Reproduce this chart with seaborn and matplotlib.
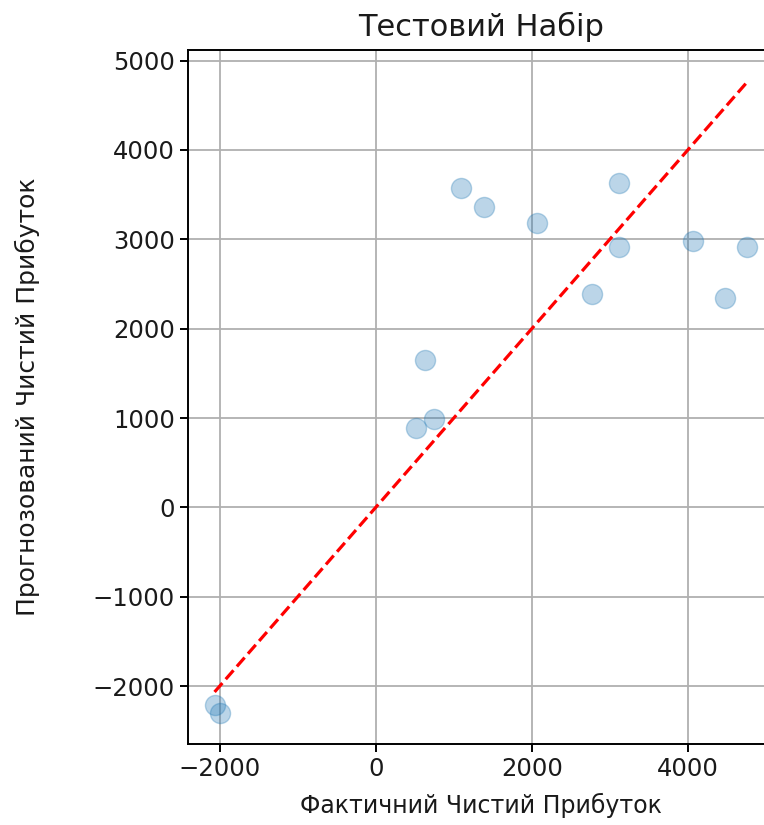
import numpy as np
import pandas as pd
import matplotlib
matplotlib.use("Agg")
import matplotlib.pyplot as plt
from matplotlib.ticker import MultipleLocator
import seaborn as sns

# test set: actual vs predicted net profit
actual = [1095, 1386, 2070, 3117, 3117, 2768, 4068, 4762, 4475, 626, 512, 751, -2065, -1998]
predicted = [3574, 3367, 3184, 3630, 2918, 2385, 2981, 2918, 2348, 1650, 885, 989, -2215, -2296]

df = pd.DataFrame({"actual": actual, "predicted": predicted})

sns.set_style("ticks")
plt.rcParams['font.family'] = ['DejaVu Sans']
plt.rcParams['text.color'] = '#1a1a1a'
plt.rcParams['axes.labelcolor'] = '#1a1a1a'

fig = plt.figure(figsize=(7.64, 8.25), dpi=100)
ax = fig.add_axes([0.246, 0.098, 0.767, 0.841])

sns.scatterplot(data=df, x="actual", y="predicted", ax=ax, s=210, alpha=0.3,
                color="C0", edgecolor="C0", linewidth=1)

lo, hi = min(actual), max(actual)
ax.plot([lo, hi], [lo, hi], "r--", lw=2.3)

ax.xaxis.set_major_locator(MultipleLocator(2000))
ax.yaxis.set_major_locator(MultipleLocator(1000))

ax.grid(True, color="#b0b0b0", linewidth=1.3)
ax.set_axisbelow(True)
for sp in ax.spines.values():
    sp.set_color("black")
    sp.set_linewidth(1.4)
ax.tick_params(labelsize=17.5, length=6, width=1.4, colors="black", labelcolor="#1a1a1a")

ax.set_title("Тестовий Набір", fontsize=22, pad=10)
ax.set_xlabel("Фактичний Чистий Прибуток", fontsize=17, labelpad=8)
ax.set_ylabel("Прогнозований Чистий Прибуток", fontsize=18, labelpad=38)

fig.savefig("out.png", dpi=100)
